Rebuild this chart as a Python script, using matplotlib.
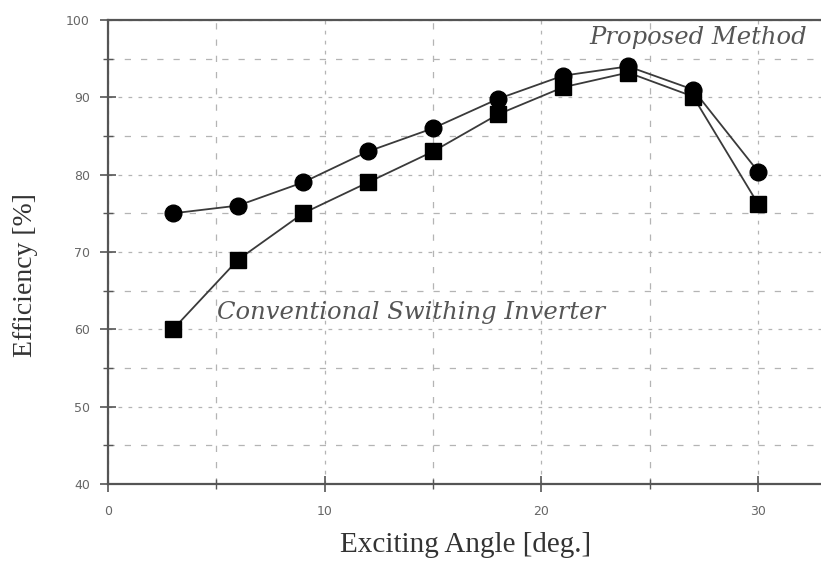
import numpy as np
import matplotlib.pyplot as plt
from matplotlib.ticker import MultipleLocator

# exciting angle [deg.]
angle = [3, 6, 9, 12, 15, 18, 21, 24, 27, 30]
# efficiency [%]
proposed = [75, 76, 79, 83, 86, 89.8, 92.8, 94.0, 91.0, 80.4]
conventional = [60, 69, 75, 79, 83, 87.8, 91.3, 93.2, 90.1, 76.2]

fig = plt.figure(figsize=(8.21, 5.63), dpi=100)
ax = fig.add_axes([0.1315, 0.1403, 0.8685, 0.8242])

ax.plot(angle, proposed, color="#3a3a3a", lw=1.3, marker="o", ms=12,
        mfc="black", mec="black", zorder=3)
ax.plot(angle, conventional, color="#3a3a3a", lw=1.3, marker="s", ms=11,
        mfc="black", mec="black", zorder=3)

ax.set_xlim(0, 32.9)
ax.set_ylim(40, 100)
ax.xaxis.set_major_locator(MultipleLocator(10))
ax.xaxis.set_minor_locator(MultipleLocator(5))
ax.yaxis.set_major_locator(MultipleLocator(10))
ax.yaxis.set_minor_locator(MultipleLocator(5))

ax.grid(which="major", color="#b4b4b4", ls=(0, (3, 5)), lw=0.9)
ax.grid(which="minor", color="#b4b4b4", ls=(0, (5, 8)), lw=0.9)
ax.set_axisbelow(True)

for s in ["left", "top", "bottom"]:
    ax.spines[s].set_color("#555555")
    ax.spines[s].set_linewidth(1.6)
ax.spines["right"].set_visible(False)

ax.tick_params(which="major", direction="inout", length=12, width=1.2,
               color="#555555", labelsize=9, labelcolor="#666666")
ax.tick_params(which="minor", direction="inout", length=7, width=1.0,
               color="#555555")
ax.tick_params(axis="y", pad=7)
ax.tick_params(axis="x", pad=9)

ax.set_xlabel("Exciting Angle [deg.]", family="Liberation Serif",
              fontsize=21, color="#333333")
ax.xaxis.set_label_coords(0.502, -0.103)
ax.set_ylabel("Efficiency [%]", family="Liberation Serif",
              fontsize=20, color="#333333")
ax.yaxis.set_label_coords(-0.098, 0.45)

ax.text(22.2, 97.7, "Proposed Method", family="DejaVu Serif",
        style="italic", fontsize=17.5, color="#555555", va="center")
ax.text(5.05, 62.2, "Conventional Swithing Inverter", family="DejaVu Serif",
        style="italic", fontsize=17.5, color="#555555", va="center")

fig.savefig("out.png", dpi=100)
